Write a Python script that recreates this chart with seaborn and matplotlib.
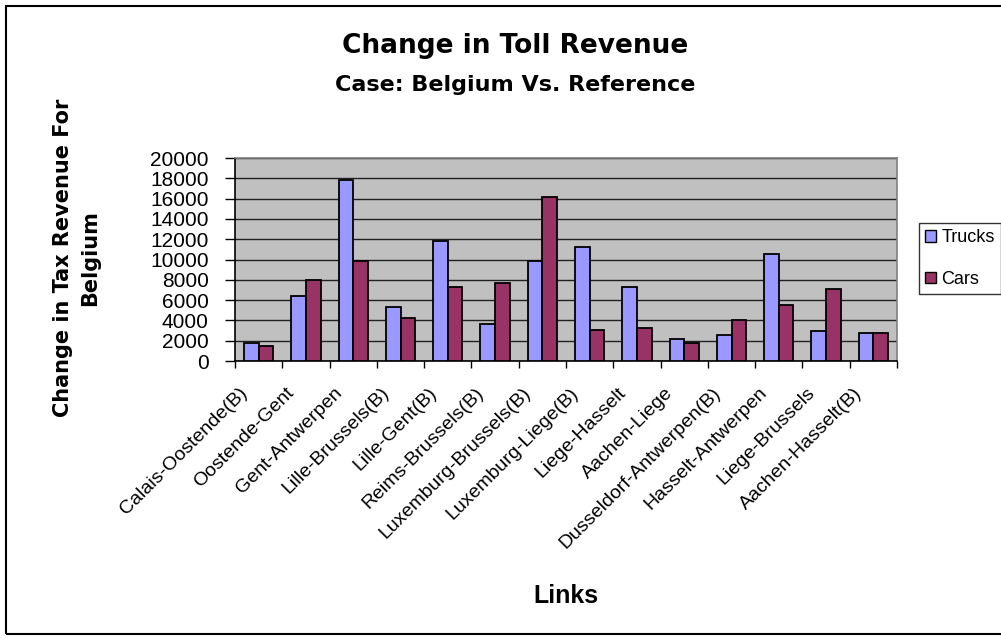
import matplotlib
matplotlib.use("Agg")
import matplotlib.pyplot as plt
import matplotlib.transforms as mtransforms
import seaborn as sns
import pandas as pd
from matplotlib.patches import Rectangle, Patch

links = [
    "Calais-Oostende(B)", "Oostende-Gent", "Gent-Antwerpen", "Lille-Brussels(B)",
    "Lille-Gent(B)", "Reims-Brussels(B)", "Luxemburg-Brussels(B)", "Luxemburg-Liege(B)",
    "Liege-Hasselt", "Aachen-Liege", "Dusseldorf-Antwerpen(B)", "Hasselt-Antwerpen",
    "Liege-Brussels", "Aachen-Hasselt(B)",
]
trucks = [1800, 6400, 17800, 5300, 11800, 3650, 9900, 11200, 7300, 2200, 2600, 10500, 2950, 2750]
cars = [1450, 8000, 9900, 4200, 7300, 7700, 16200, 3100, 3250, 1800, 4050, 5500, 7100, 2750]
yticks = list(range(0, 20001, 2000))

df = pd.DataFrame({
    "Link": links * 2,
    "Revenue": trucks + cars,
    "Vehicle": ["Trucks"] * len(links) + ["Cars"] * len(links),
})

sns.set_theme(style="white")
plt.rcParams["font.family"] = ["Liberation Sans", "DejaVu Sans"]
for key in ("text.color", "axes.labelcolor", "xtick.color", "ytick.color"):
    plt.rcParams[key] = "black"

fig = plt.figure(figsize=(10.01, 6.39), dpi=100)
ax = fig.add_axes([235 / 1001, 1 - 361 / 639, (897 - 235) / 1001, (361 - 158) / 639])

palette = {"Trucks": "#9999FF", "Cars": "#993366"}
sns.barplot(data=df, x="Link", y="Revenue", hue="Vehicle", palette=palette,
            width=0.62, edgecolor="black", linewidth=1.3, saturation=1,
            ax=ax, legend=False, zorder=3)

ax.set_facecolor("#C0C0C0")
ax.set_ylim(0, 20000)
ax.set_xlim(-0.5, len(links) - 0.5)
ax.set_yticks(yticks)
ax.set_yticklabels([str(v) for v in yticks], fontsize=15)
ax.yaxis.grid(True, color="#202020", linewidth=1.0, zorder=0)
ax.set_axisbelow(True)

# category labels on major ticks, tick marks between categories
ax.set_xticks(range(len(links)))
ax.set_xticklabels(links, rotation=45, ha="right", rotation_mode="anchor", fontsize=14)
ax.set_xticks([i - 0.5 for i in range(len(links) + 1)], minor=True)
ax.tick_params(axis="x", which="major", length=0, pad=14)
ax.tick_params(axis="x", which="minor", length=5, width=1, color="black", direction="out", bottom=True)
ax.tick_params(axis="y", length=7, width=1, color="black", direction="out", left=True, pad=12)

# nudge the slanted link names down-left of their categories
shift = mtransforms.ScaledTranslation(-0.20, -0.04, fig.dpi_scale_trans)
for lbl in ax.get_xticklabels():
    lbl.set_transform(lbl.get_transform() + shift)

for side in ("left", "bottom"):
    ax.spines[side].set_color("black")
    ax.spines[side].set_linewidth(1.2)
for side in ("top", "right"):
    ax.spines[side].set_color("#808080")
    ax.spines[side].set_linewidth(1.2)

ax.set_xlabel("")
ax.set_ylabel("")
fig.text(566 / 1001, 1 - 596 / 639, "Links", ha="center", va="center",
         fontsize=18, fontweight="bold")
fig.text(77 / 1001, 1 - 258 / 639, "Change in Tax Revenue For\nBelgium", rotation=90,
         ha="center", va="center", fontsize=15, fontweight="bold", linespacing=1.45,
         family="DejaVu Sans")

fig.text(515 / 1001, 1 - 46 / 639, "Change in Toll Revenue", ha="center", va="center",
         fontsize=19, fontweight="bold", family="DejaVu Sans")
fig.text(515 / 1001, 1 - 85 / 639, "Case: Belgium Vs. Reference", ha="center", va="center",
         fontsize=16, fontweight="bold", family="DejaVu Sans")

# legend
handles = [Patch(facecolor=palette[k], edgecolor="black", linewidth=1.0) for k in ("Trucks", "Cars")]
leg = fig.legend(handles, ["Trucks", "Cars"], loc="upper left",
                 bbox_to_anchor=(919 / 1001, 1 - 223 / 639), borderaxespad=0, fontsize=13,
                 frameon=True, fancybox=False, edgecolor="black",
                 handlelength=0.6, handleheight=0.6, handletextpad=0.3,
                 labelspacing=1.35, borderpad=0.35)
leg.get_frame().set_linewidth(1.0)

# outer chart border
fig.patches.append(Rectangle((6 / 1001, 5 / 639), 1.0, 1 - 11 / 639, transform=fig.transFigure,
                             fill=False, edgecolor="black", linewidth=1.5))

fig.savefig("out.png", dpi=100)
